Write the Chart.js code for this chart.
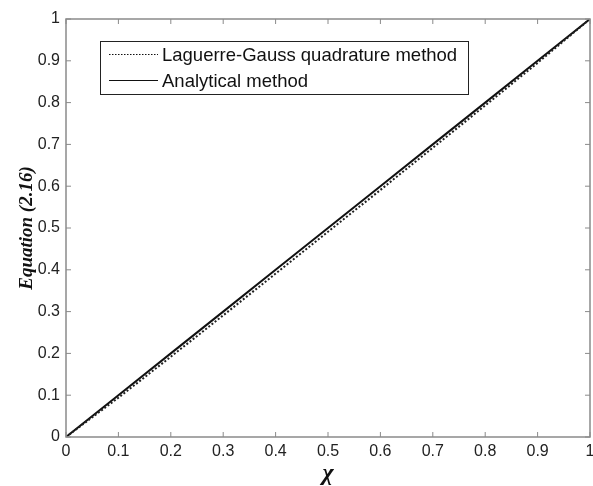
<!DOCTYPE html>
<html><head><meta charset="utf-8">
<script src="https://cdn.jsdelivr.net/npm/chart.js@4.4.0/dist/chart.umd.min.js"></script>
<style>html,body{margin:0;padding:0;background:#fff}#w{width:593px;height:486px}</style>
</head><body><div id="w"><canvas id="c"></canvas></div>
<script>
const xValues = [0, 0.1, 0.2, 0.3, 0.4, 0.5, 0.6, 0.7, 0.8, 0.9, 1];
const laguerreGauss = [0, 0.094, 0.192, 0.291, 0.391, 0.491, 0.591, 0.692, 0.793, 0.895, 1];
const analytical = [0, 0.1, 0.2, 0.3, 0.4, 0.5, 0.6, 0.7, 0.8, 0.9, 1];
const tickValues = [0, 0.1, 0.2, 0.3, 0.4, 0.5, 0.6, 0.7, 0.8, 0.9, 1];
const seriesLabels = ['Laguerre-Gauss quadrature method', 'Analytical method'];
const xTitle = 'χ';
const yTitle = 'Equation (2.16)';

const AXC = '#8a8a8a';
const boxPlugin = {
  id: 'box',
  afterDraw(chart) {
    const {ctx, chartArea: a, scales: {x, y}} = chart;
    ctx.save();
    ctx.strokeStyle = AXC; ctx.lineWidth = 1.5;
    ctx.strokeRect(a.left, a.top, a.right - a.left, a.bottom - a.top);
    ctx.lineWidth = 1;
    const L = 5;
    tickValues.forEach(v => {
      const px = x.getPixelForValue(v), py = y.getPixelForValue(v);
      ctx.beginPath();
      ctx.moveTo(px, a.bottom); ctx.lineTo(px, a.bottom - L);
      ctx.moveTo(px, a.top); ctx.lineTo(px, a.top + L);
      ctx.moveTo(a.left, py); ctx.lineTo(a.left + L, py);
      ctx.moveTo(a.right, py); ctx.lineTo(a.right - L, py);
      ctx.stroke();
    });
    // titles
    ctx.fillStyle = '#111';
    ctx.font = 'bold italic 24px "Liberation Serif"';
    ctx.textAlign = 'center'; ctx.textBaseline = 'alphabetic';
    ctx.fillText(xTitle, (a.left + a.right) / 2, 480);
    ctx.save();
    ctx.translate(32, (a.top + a.bottom) / 2);
    ctx.rotate(-Math.PI / 2);
    ctx.font = 'bold italic 19px "Liberation Serif"';
    ctx.fillText(yTitle, 0, 0);
    ctx.restore();
    // legend
    const bx = 100, by = 41, bw = 368, bh = 53;
    ctx.fillStyle = '#fff';
    ctx.fillRect(bx, by, bw, bh);
    ctx.strokeStyle = '#222'; ctx.lineWidth = 1;
    ctx.strokeRect(bx + 0.5, by + 0.5, bw, bh);
    ctx.font = '18.5px "Liberation Sans"';
    ctx.textAlign = 'left'; ctx.textBaseline = 'middle';
    const rows = [by + 13.5, by + 39.5];
    chart.data.datasets.forEach((ds, i) => {
      ctx.strokeStyle = '#111'; ctx.lineWidth = 1;
      ctx.setLineDash(ds.borderDash ? [1.5, 1.5] : []);
      ctx.beginPath(); ctx.moveTo(109, rows[i]); ctx.lineTo(158, rows[i]); ctx.stroke();
      ctx.setLineDash([]);
      ctx.fillStyle = '#111';
      ctx.fillText(ds.label, 162, rows[i] + 1);
    });
    ctx.restore();
  }
};

new Chart(document.getElementById('c'), {
  type: 'line',
  data: {
    datasets: [
      {label: seriesLabels[0], data: xValues.map((v, i) => ({x: v, y: laguerreGauss[i]})),
       borderColor: '#222', borderWidth: 2, borderDash: [2, 2], pointRadius: 0, fill: false},
      {label: seriesLabels[1], data: xValues.map((v, i) => ({x: v, y: analytical[i]})),
       borderColor: '#111', borderWidth: 2, pointRadius: 0, fill: false}
    ]
  },
  options: {
    responsive: true, maintainAspectRatio: false, animation: false,
    devicePixelRatio: 1,
    layout: {padding: {left: 0, right: 3, top: 19, bottom: 0}},
    plugins: {legend: {display: false}, tooltip: {enabled: false}},
    scales: {
      x: {type: 'linear', min: 0, max: 1,
          afterBuildTicks: s => { s.ticks = tickValues.map(v => ({value: v})); },
          afterFit: s => { s.height = 49; s.paddingLeft = 0; s.paddingRight = 0; },
          grid: {display: false, drawTicks: false}, border: {display: false},
          ticks: {padding: 5, color: '#222', font: {family: 'Liberation Sans', size: 16},
                  maxRotation: 0, autoSkip: false, callback: v => String(v)}},
      y: {type: 'linear', min: 0, max: 1,
          afterBuildTicks: s => { s.ticks = tickValues.map(v => ({value: v})); },
          afterFit: s => { s.width = 66; s.paddingTop = 0; s.paddingBottom = 0; },
          grid: {display: false, drawTicks: false}, border: {display: false},
          ticks: {padding: 6, color: '#222', font: {family: 'Liberation Sans', size: 16},
                  autoSkip: false, callback: v => String(v)}}
    }
  },
  plugins: [boxPlugin]
});
</script></body></html>
